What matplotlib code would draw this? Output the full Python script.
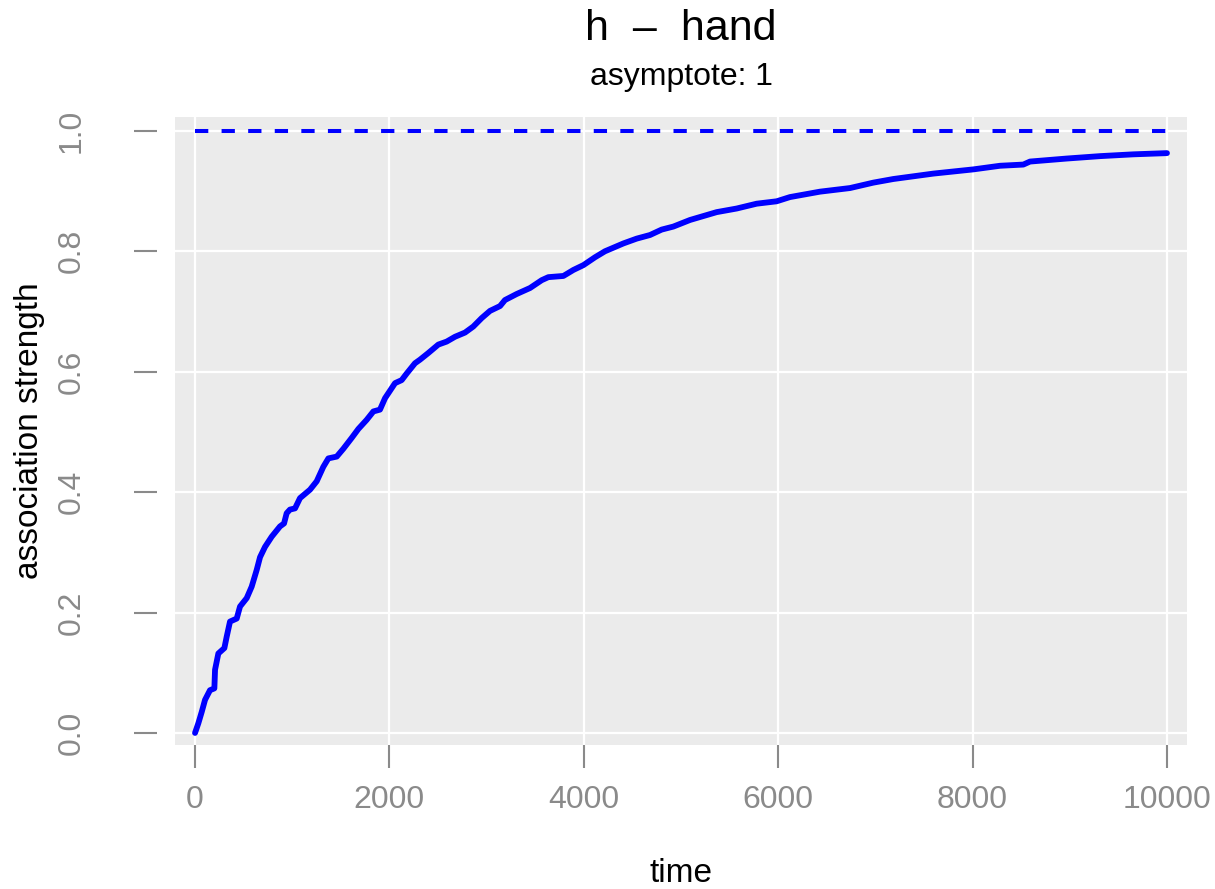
import matplotlib
matplotlib.use("Agg")
import matplotlib.pyplot as plt

# Association strength over time for the cue "h" -> "hand"
time = [0, 34, 69, 103, 154, 199, 206, 240, 302, 326, 360, 429, 463, 532, 583,
        635, 669, 720, 789, 874, 916, 943, 977, 1029, 1080, 1183, 1252, 1320,
        1372, 1458, 1526, 1612, 1681, 1766, 1835, 1903, 1955, 2058, 2126, 2178,
        2263, 2315, 2400, 2503, 2589, 2675, 2778, 2863, 2949, 3035, 3138, 3189,
        3309, 3447, 3567, 3635, 3790, 3893, 3996, 4115, 4218, 4407, 4544, 4681,
        4801, 4921, 5093, 5367, 5573, 5778, 5984, 6121, 6430, 6739, 6979, 7184,
        7459, 7596, 8008, 8282, 8522, 8591, 8968, 9311, 9654, 10000]
strength = [0.0, 0.016, 0.035, 0.055, 0.071, 0.074, 0.105, 0.132, 0.141, 0.160,
            0.185, 0.190, 0.210, 0.224, 0.243, 0.271, 0.292, 0.309, 0.326, 0.343,
            0.348, 0.365, 0.371, 0.373, 0.390, 0.404, 0.418, 0.442, 0.456, 0.459,
            0.472, 0.490, 0.505, 0.520, 0.534, 0.537, 0.556, 0.581, 0.586, 0.597,
            0.614, 0.620, 0.631, 0.645, 0.650, 0.658, 0.665, 0.675, 0.689, 0.701,
            0.709, 0.719, 0.729, 0.739, 0.752, 0.757, 0.759, 0.769, 0.777, 0.790,
            0.800, 0.813, 0.821, 0.827, 0.836, 0.841, 0.852, 0.865, 0.871, 0.879,
            0.883, 0.890, 0.899, 0.905, 0.914, 0.920, 0.926, 0.929, 0.936, 0.942,
            0.944, 0.949, 0.954, 0.958, 0.961, 0.963]
asymptote = 1.0

x_ticks = [0, 2000, 4000, 6000, 8000, 10000]
y_ticks = [0.0, 0.2, 0.4, 0.6, 0.8, 1.0]
y_tick_labels = ["0.0", "0.2", "0.4", "0.6", "0.8", "1.0"]

plt.rcParams['font.family'] = ['Liberation Sans', 'DejaVu Sans']

W, H, DPI = 1215, 889, 100
fig = plt.figure(figsize=(W / DPI, H / DPI), dpi=DPI)
ax = fig.add_axes([175 / W, 1 - 745 / H, (1187 - 175) / W, (745 - 117) / H])

ax.set_facecolor('#EBEBEB')
for s in ax.spines.values():
    s.set_visible(False)

ax.set_xlim(-206, 10206)
ax.set_ylim(-0.020, 1.023)

ax.grid(True, color='white', linewidth=1.6)
ax.set_axisbelow(True)

ax.plot(time, strength, color='#0000FF', linewidth=4.2, solid_capstyle='round',
        solid_joinstyle='round', zorder=3)
ax.plot([0, 10000], [asymptote, asymptote], color='#0000FF', linewidth=2.9,
        dashes=(3.3, 3.3), zorder=3)

tick_grey = '#8A8A8A'
ax.set_xticks(x_ticks)
ax.set_xticklabels([str(v) for v in x_ticks])
ax.set_yticks(y_ticks)
ax.set_yticklabels(y_tick_labels)

ax.spines['left'].set_position(('outward', 13))
ax.tick_params(axis='both', length=16.5, width=1.5, color=tick_grey,
               labelcolor=tick_grey, labelsize=23)
ax.tick_params(axis='x', pad=12)
ax.tick_params(axis='y', pad=34, labelrotation=90)
for lbl in ax.get_yticklabels():
    lbl.set_verticalalignment('center')

fig.text(681 / W, 1 - 873 / H, 'time', ha='center', va='center', fontsize=24)
fig.text(30 / W, 1 - 431 / H, 'association strength', ha='center', va='center',
         rotation=90, fontsize=24)

fig.text(681 / W, 1 - 29 / H, 'h  \u2013  hand', ha='center', va='center',
         fontsize=31)
fig.text(681 / W, 1 - 77 / H, 'asymptote: 1', ha='center', va='center',
         fontsize=23)

fig.savefig('out.png', dpi=DPI)
